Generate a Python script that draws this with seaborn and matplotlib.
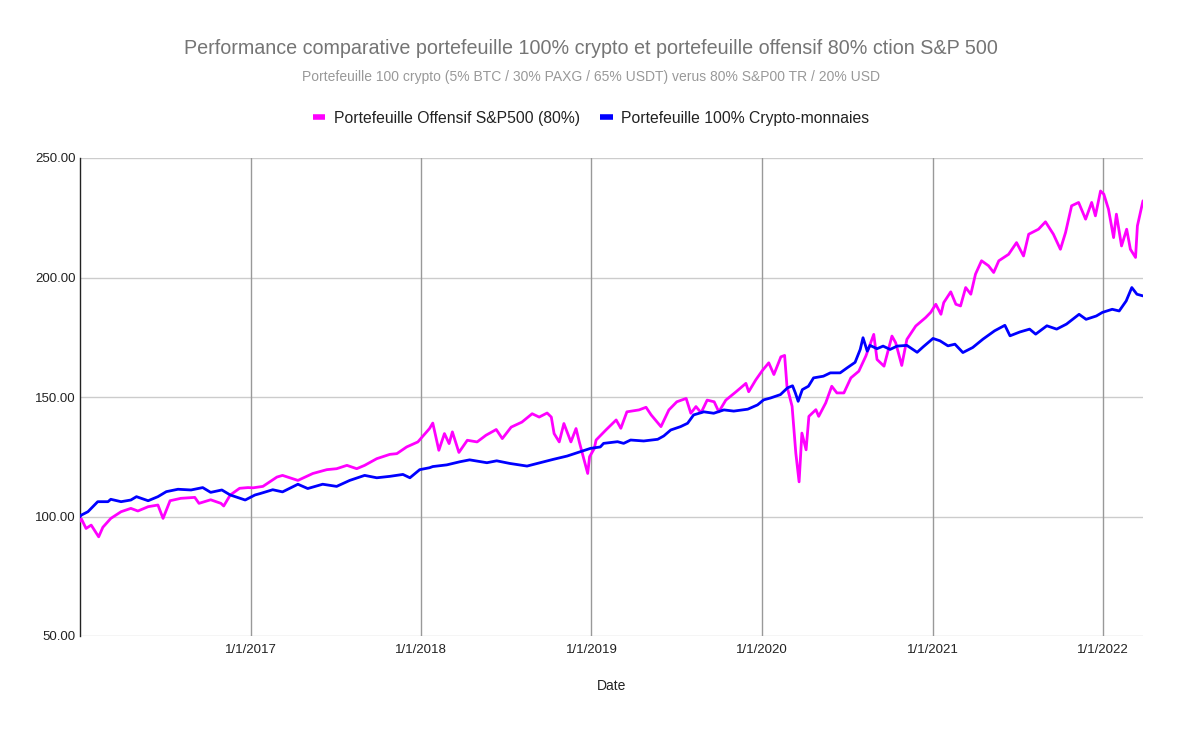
import matplotlib
matplotlib.use("Agg")
import matplotlib.pyplot as plt
import matplotlib.dates as mdates
from matplotlib.lines import Line2D
import seaborn as sns
import pandas as pd

# ---- data ----
sp_dates = ["2016-01-01","2016-01-04","2016-01-14","2016-01-25","2016-02-10","2016-02-19","2016-03-07","2016-03-29",
    "2016-04-19","2016-05-04","2016-05-26","2016-06-16","2016-06-27","2016-07-12","2016-08-04","2016-09-03",
    "2016-09-12","2016-10-07","2016-10-29","2016-11-04","2016-11-18","2016-12-08","2016-12-26",
    "2017-01-06","2017-01-27","2017-02-26","2017-03-10","2017-04-12","2017-05-14","2017-06-13","2017-07-04",
    "2017-07-26","2017-08-16","2017-09-02","2017-09-28","2017-10-26","2017-11-10","2017-12-01","2017-12-25",
    "2018-01-19","2018-01-26","2018-02-08","2018-02-20","2018-03-02","2018-03-09","2018-03-23","2018-04-10",
    "2018-05-01","2018-05-20","2018-06-11","2018-06-24","2018-07-13","2018-08-05","2018-08-27","2018-09-11",
    "2018-09-28","2018-10-07","2018-10-13","2018-10-24","2018-11-03","2018-11-18","2018-11-29","2018-12-06",
    "2018-12-24","2018-12-28","2019-01-07","2019-01-11","2019-02-01","2019-02-23","2019-03-05","2019-03-18",
    "2019-04-13","2019-04-28","2019-05-09","2019-05-30","2019-06-16","2019-07-03","2019-07-23","2019-08-02",
    "2019-08-13","2019-08-24","2019-09-06","2019-09-21","2019-10-01","2019-10-16","2019-11-07","2019-11-28",
    "2019-12-04","2019-12-19","2020-01-02","2020-01-16","2020-01-27","2020-02-11","2020-02-19","2020-02-24",
    "2020-03-06","2020-03-14","2020-03-21","2020-03-27","2020-04-05","2020-04-11","2020-04-26","2020-05-02",
    "2020-05-17","2020-05-30","2020-06-10","2020-06-25","2020-07-10","2020-07-27","2020-08-11","2020-08-28",
    "2020-09-04","2020-09-19","2020-10-06","2020-10-14","2020-10-27","2020-11-07","2020-11-26","2020-12-17",
    "2020-12-28","2021-01-08","2021-01-19","2021-01-25","2021-02-09","2021-02-20","2021-03-02","2021-03-13",
    "2021-03-24","2021-04-03","2021-04-16","2021-05-01","2021-05-12","2021-05-23","2021-06-13","2021-06-30",
    "2021-07-15","2021-07-26","2021-08-16","2021-08-31","2021-09-17","2021-10-02","2021-10-13","2021-10-26",
    "2021-11-10","2021-11-25","2021-12-08","2021-12-16","2021-12-27","2022-01-03","2022-01-13","2022-01-24",
    "2022-01-30","2022-02-10","2022-02-21","2022-03-01","2022-03-12","2022-03-16","2022-03-28"]
sp_values = [98.0,99.0,95.0,96.4,91.5,95.5,99.2,102.0,
    103.4,102.3,104.1,104.8,99.2,106.6,107.6,108.0,
    105.5,107.0,105.5,104.4,109.0,111.8,112.1,
    112.0,112.6,116.5,117.2,115.1,118.0,119.6,120.0,
    121.4,120.0,121.4,124.2,126.0,126.3,129.1,131.2,
    136.8,139.1,127.7,134.7,130.5,135.4,126.8,131.9,
    131.2,134.0,136.4,132.6,137.4,139.5,143.0,141.6,
    143.3,141.6,134.7,131.2,138.9,131.2,136.8,131.2,
    118.0,125.0,128.4,132.0,136.2,140.4,136.9,143.8,
    144.6,145.7,142.5,137.6,144.6,148.0,149.4,143.2,
    146.0,143.4,148.7,148.0,143.8,148.7,152.2,155.7,
    152.2,157.1,161.0,164.3,159.4,166.8,167.4,154.5,
    146.1,126.5,114.5,134.9,127.9,141.9,144.7,141.9,
    147.5,154.5,151.7,151.7,158.0,160.8,167.1,176.2,
    165.7,162.9,175.5,172.7,163.2,174.1,179.7,183.2,
    185.4,188.8,184.6,189.5,194.0,188.8,188.1,195.8,
    193.0,201.4,207.0,204.9,202.1,207.0,209.7,214.6,
    209.0,218.1,220.2,223.3,218.1,211.8,218.8,230.0,
    231.4,224.4,231.4,225.8,236.2,234.9,228.6,216.7,
    226.5,213.2,220.2,211.8,208.4,221.6,232.1]

cr_dates = ["2016-01-01","2016-01-04","2016-01-18","2016-02-08","2016-03-01","2016-03-07","2016-03-29","2016-04-19",
    "2016-05-01","2016-05-26","2016-06-16","2016-07-04","2016-07-29","2016-08-26","2016-09-20","2016-10-07",
    "2016-10-31","2016-11-18","2016-12-20","2017-01-10","2017-01-21","2017-02-17","2017-03-10","2017-04-12",
    "2017-05-03","2017-06-04","2017-07-04","2017-08-01","2017-09-02","2017-09-28","2017-10-26","2017-11-23",
    "2017-12-08","2017-12-29","2018-01-19","2018-01-26","2018-02-25","2018-03-25","2018-04-15","2018-05-22",
    "2018-06-12","2018-07-10","2018-08-16","2018-09-13","2018-10-11","2018-11-10","2018-12-08","2018-12-30",
    "2019-01-20","2019-01-27","2019-02-26","2019-03-11","2019-03-26","2019-04-23","2019-05-23","2019-06-05",
    "2019-06-20","2019-07-11","2019-07-26","2019-08-08","2019-08-30","2019-09-20","2019-10-12","2019-11-02",
    "2019-12-02","2019-12-23","2020-01-05","2020-01-20","2020-02-10","2020-02-25","2020-03-07","2020-03-13",
    "2020-03-19","2020-03-28","2020-04-10","2020-04-21","2020-05-12","2020-05-27","2020-06-17","2020-07-02",
    "2020-07-19","2020-07-30","2020-08-05","2020-08-14","2020-08-20","2020-09-04","2020-09-17","2020-10-02",
    "2020-10-17","2020-11-07","2020-11-29","2020-12-12","2021-01-02","2021-01-17","2021-02-03","2021-02-18",
    "2021-03-07","2021-03-28","2021-04-19","2021-05-14","2021-06-05","2021-06-16","2021-07-07","2021-07-28",
    "2021-08-10","2021-09-03","2021-09-24","2021-10-15","2021-11-11","2021-11-26","2021-12-18","2021-12-31",
    "2022-01-21","2022-02-05","2022-02-20","2022-03-04","2022-03-15","2022-03-28"]
cr_values = [100.0,100.6,102.0,106.2,106.2,107.2,106.2,106.9,
    108.3,106.6,108.3,110.4,111.4,111.1,112.1,110.1,
    111.1,109.0,106.9,109.0,109.6,111.2,110.3,113.5,
    111.7,113.5,112.6,115.1,117.2,116.2,116.8,117.6,
    116.2,119.6,120.4,120.9,121.6,122.9,123.7,122.5,
    123.3,122.2,121.1,122.5,123.9,125.3,127.1,128.5,
    129.1,130.6,131.3,130.6,132.0,131.6,132.3,133.7,
    136.2,137.6,139.0,142.5,143.8,143.2,144.6,144.1,
    144.9,146.7,148.8,149.6,151.0,153.8,154.7,151.7,
    148.2,153.1,154.5,158.0,158.7,160.1,160.1,162.2,
    164.5,169.9,174.8,169.2,171.6,170.2,171.3,169.9,
    171.3,171.6,168.7,171.0,174.5,173.5,171.4,172.1,
    168.6,170.7,174.2,177.7,180.0,175.6,177.2,178.4,
    176.3,179.8,178.4,180.5,184.6,182.5,183.9,185.4,
    186.7,186.0,190.2,195.8,193.0,192.3]

series_names = ["Portefeuille Offensif S&P500 (80%)", "Portefeuille 100% Crypto-monnaies"]
series_colors = ["#FF00FF", "#0000FF"]
y_ticks = [50, 100, 150, 200, 250]
x_years = ["2017-01-01", "2018-01-01", "2019-01-01", "2020-01-01", "2021-01-01", "2022-01-01"]

title = "Performance comparative portefeuille 100% crypto et portefeuille offensif 80% ction S&P 500"
subtitle = "Portefeuille 100 crypto (5% BTC / 30% PAXG / 65% USDT) verus 80% S&P00 TR / 20% USD"

df = pd.concat([
    pd.DataFrame({"Date": pd.to_datetime(sp_dates), "Valeur": sp_values, "Série": series_names[0]}),
    pd.DataFrame({"Date": pd.to_datetime(cr_dates), "Valeur": cr_values, "Série": series_names[1]}),
])

sns.set_theme(style="white")
plt.rcParams["font.family"] = ["Liberation Sans", "DejaVu Sans"]

fig = plt.figure(figsize=(11.81, 7.30), dpi=100)
ax = fig.add_axes([80/1181, (730-636)/730, (1143-80)/1181, (636-158)/730])

sns.lineplot(data=df, x="Date", y="Valeur", hue="Série", palette=dict(zip(series_names, series_colors)),
             linewidth=2.0, ax=ax, legend=False, zorder=3)

ax.set_ylim(50, 250)
ax.set_yticks(y_ticks)
ax.set_yticklabels([f"{v:.2f}" for v in y_ticks])
ax.set_xlim(pd.Timestamp("2016-01-01"), pd.Timestamp("2022-03-28"))
ax.set_xticks(pd.to_datetime(x_years))
ax.xaxis.set_major_formatter(mdates.DateFormatter("%-m/%-d/%Y"))

ax.grid(False)
for v in y_ticks:
    ax.axhline(v, color="#cccccc", lw=1, zorder=1)
for d in pd.to_datetime(x_years):
    ax.axvline(d, color="#999999", lw=1, zorder=1)

for s in ["top", "right", "bottom"]:
    ax.spines[s].set_visible(False)
ax.spines["left"].set_color("#222222")
ax.spines["left"].set_linewidth(1.0)
ax.tick_params(axis="both", length=0, labelsize=9.5, colors="#222222")
ax.tick_params(axis="y", pad=3)
ax.tick_params(axis="x", pad=6)

ax.set_xlabel("Date", fontsize=10, color="#222222", labelpad=16)
ax.set_ylabel("")

fig.text(591/1181, 1 - 49/730, title, ha="center", va="center", fontsize=14.2, color="#757575")
fig.text(591/1181, 1 - 77/730, subtitle, ha="center", va="center", fontsize=10, color="#999999")

handles = [Line2D([0], [0], color=c, lw=4, solid_capstyle="butt") for c in series_colors]
fig.legend(handles, series_names, loc="center", bbox_to_anchor=(591/1181, 1 - 118/730), ncol=2,
           frameon=False, fontsize=11.3, handlelength=0.8, handletextpad=0.55, columnspacing=1.3,
           labelcolor="#222222")

fig.savefig("out.png", dpi=100)
